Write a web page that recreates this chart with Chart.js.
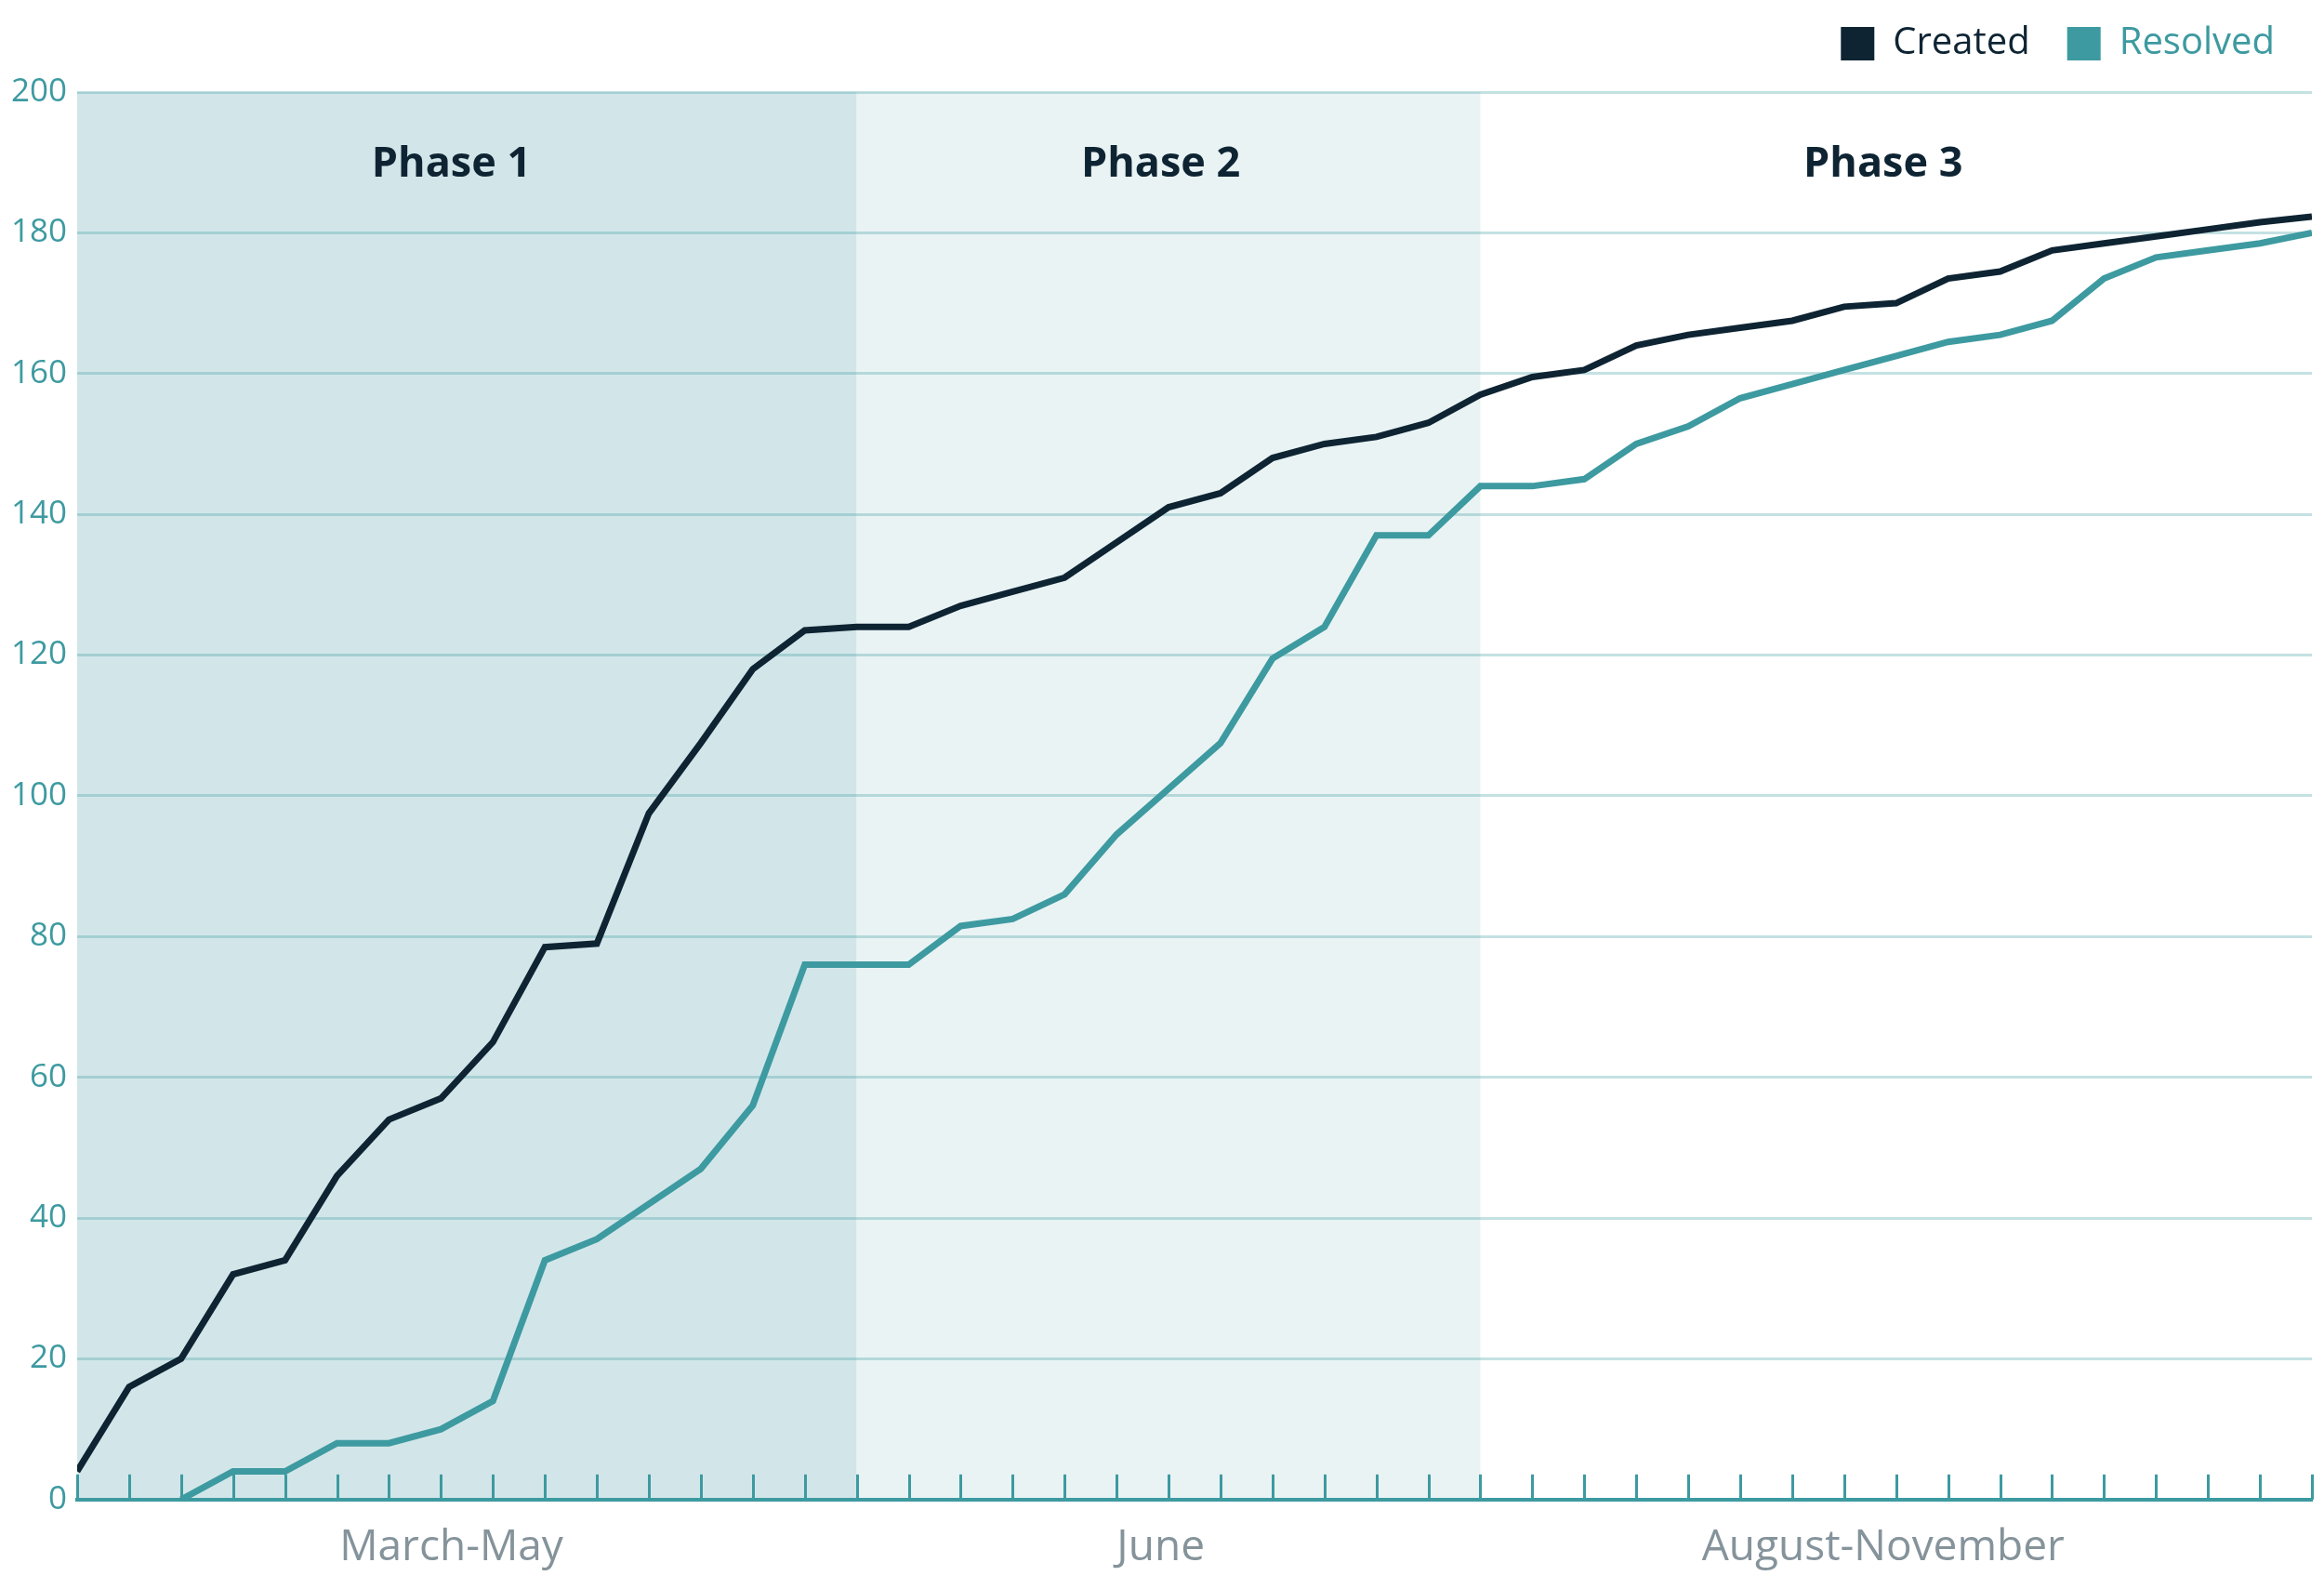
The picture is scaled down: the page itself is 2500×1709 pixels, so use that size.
<!DOCTYPE html>
<html>
<head>
<meta charset="utf-8">
<title>Created vs Resolved</title>
<script src="https://cdn.jsdelivr.net/npm/chart.js@4.4.1/dist/chart.umd.min.js"></script>
<style>
  html, body { margin: 0; padding: 0; background: #fff; }
  #wrap { width: 2500px; height: 1709px; position: relative; }
</style>
</head>
<body>
<div id="wrap"><canvas id="issuesChart"></canvas></div>
<script>
// cumulative counts, one value per week
const created = [4, 16, 20, 32, 34, 46, 54, 57, 65, 78.5, 79, 97.5, 107.5, 118, 123.5,
    124, 124, 127, 129, 131, 136, 141, 143, 148, 150, 151, 153, 157,
    159.5, 160.5, 164, 165.5, 166.5, 167.5, 169.5, 170, 173.5, 174.5, 177.5, 178.5, 179.5, 180.5, 181.5, 182.3];
const resolved = [null, null, 0, 4, 4, 8, 8, 10, 14, 34, 37, 42, 47, 56, 76,
    76, 76, 81.5, 82.5, 86, 94.5, 101, 107.5, 119.5, 124, 137, 137, 144,
    144, 145, 150, 152.5, 156.5, 158.5, 160.5, 162.5, 164.5, 165.5, 167.5, 173.5, 176.5, 177.5, 178.5, 180];

const seriesNames = ['Created', 'Resolved'];
const periodLabels = ['March-May', 'June', 'August-November'];
const phaseNames = ['Phase 1', 'Phase 2', 'Phase 3'];
const phaseBounds = [0, 15, 27, 43];        // week index where each phase starts / ends
const phaseLabelAt = [7.2, 20.85, 34.75];   // week index under each phase / period label

const DARK = '#0e2433';
const TEAL = '#3d9aa0';
const FONT = "'Open Sans', 'Noto Sans', sans-serif";
const phaseFills = ['#d2e6e9', '#e9f3f4', null];
const LEGEND_HEIGHT = 112;

const weeks = created.map((_, i) => i);

// shaded phase bands behind the grid, phase titles and week ticks
const phasePlugin = {
    id: 'phases',
    beforeDraw(chart) {
        const { ctx, chartArea, scales } = chart;
        ctx.save();
        phaseFills.forEach((fill, i) => {
            if (!fill) return;
            const x1 = scales.x.getPixelForValue(phaseBounds[i]);
            const x2 = scales.x.getPixelForValue(phaseBounds[i + 1]);
            ctx.fillStyle = fill;
            ctx.fillRect(x1, chartArea.top, x2 - x1, chartArea.bottom - chartArea.top);
        });
        ctx.restore();
    },
    beforeDatasetsDraw(chart) {
        const { ctx, chartArea, scales } = chart;
        ctx.save();
        ctx.font = 'bold 45px ' + FONT;
        ctx.fillStyle = DARK;
        ctx.textAlign = 'center';
        ctx.textBaseline = 'middle';
        phaseNames.forEach((name, i) => {
            ctx.fillText(name, scales.x.getPixelForValue(phaseLabelAt[i]), chartArea.top + 78);
        });
        // small week ticks standing on the x axis
        ctx.strokeStyle = TEAL;
        ctx.lineWidth = 3;
        weeks.forEach(w => {
            const x = Math.round(scales.x.getPixelForValue(w)) + 0.5;
            ctx.beginPath();
            ctx.moveTo(x, chartArea.bottom);
            ctx.lineTo(x, chartArea.bottom - 27);
            ctx.stroke();
        });
        ctx.restore();
    }
};

// legend padding is used both between items and above/below the row,
// so fix the row height separately
const legendHeightPlugin = {
    id: 'legendHeight',
    beforeLayout(chart) {
        const legend = chart.legend;
        if (!legend || legend._heightFixed) return;
        const fit = legend.fit;
        legend.fit = function () {
            fit.call(this);
            this.height = LEGEND_HEIGHT;
        };
        legend._heightFixed = true;
    }
};

const ctx = document.getElementById('issuesChart').getContext('2d');
const chart = new Chart(ctx, {
    type: 'line',
    data: {
        labels: weeks,
        datasets: [{
            label: seriesNames[0],
            data: created,
            borderColor: DARK,
            backgroundColor: DARK,
            borderWidth: 7,
            pointRadius: 0,
            tension: 0
        }, {
            label: seriesNames[1],
            data: resolved,
            borderColor: TEAL,
            backgroundColor: TEAL,
            borderWidth: 7,
            pointRadius: 0,
            tension: 0
        }]
    },
    options: {
        responsive: true,
        maintainAspectRatio: false,
        animation: false,
        layout: {
            padding: { top: -13, right: 13, bottom: -7, left: 0 }
        },
        plugins: {
            tooltip: { enabled: false },
            legend: {
                display: true,
                position: 'top',
                align: 'end',
                labels: {
                    boxWidth: 36,
                    boxHeight: 36,
                    padding: 40,
                    font: { family: FONT, size: 40 },
                    generateLabels(chart) {
                        const items = Chart.defaults.plugins.legend.labels.generateLabels(chart);
                        items.forEach(item => {
                            item.fillStyle = item.strokeStyle;
                            item.fontColor = item.strokeStyle;
                            item.lineWidth = 0;
                        });
                        return items;
                    }
                }
            }
        },
        scales: {
            x: {
                type: 'linear',
                min: 0,
                max: weeks.length - 1,
                grid: { display: false, drawTicks: false },
                border: { display: true, color: TEAL, width: 4 },
                afterBuildTicks(scale) {
                    scale.ticks = phaseLabelAt.map(v => ({ value: v }));
                },
                ticks: {
                    padding: 24,
                    maxRotation: 0,
                    autoSkip: false,
                    color: '#85939b',
                    font: { family: FONT, size: 46 },
                    callback: (value, index) => periodLabels[index]
                }
            },
            y: {
                min: 0,
                max: 200,
                afterFit(scale) { scale.width = 83; },
                grid: {
                    color: 'rgba(61, 154, 160, 0.3)',
                    lineWidth: 3,
                    drawTicks: false
                },
                border: { display: false },
                ticks: {
                    stepSize: 20,
                    padding: 11,
                    color: TEAL,
                    font: { family: FONT, size: 35 }
                }
            }
        }
    },
    plugins: [phasePlugin, legendHeightPlugin]
});
</script>
</body>
</html>
